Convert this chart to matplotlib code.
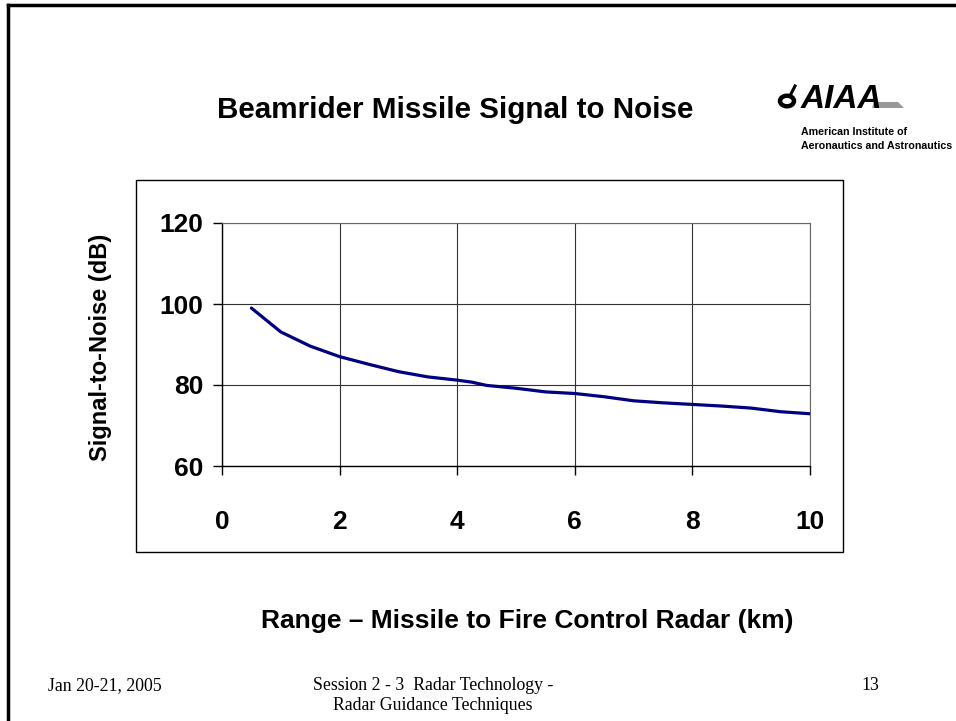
import matplotlib
matplotlib.use("Agg")
import matplotlib.pyplot as plt
from matplotlib.patches import Rectangle, Circle, Polygon
from matplotlib.lines import Line2D

range_km = [0.5, 1.0, 1.5, 2.0, 2.5, 3.0, 3.5, 4.0, 4.25, 4.5, 5.0, 5.5, 6.0, 6.5, 7.0, 7.5, 8.0, 8.5, 9.0, 9.5, 10.0]
snr_db = [99.0, 93.1, 89.6, 87.0, 85.1, 83.3, 82.0, 81.2, 80.7, 79.9, 79.2, 78.3, 77.9, 77.1, 76.1, 75.6, 75.2, 74.8, 74.3, 73.4, 72.9]
x_ticks = [0, 2, 4, 6, 8, 10]
y_ticks = [60, 80, 100, 120]

W, H = 956, 721
fig = plt.figure(figsize=(W / 100, H / 100), dpi=100)
fig.patch.set_facecolor("white")

def fx(px):
    return px / W

def fy(py):
    return 1 - py / H

# slide border (top and left visible)
fig.add_artist(Line2D([fx(8), fx(960)], [fy(5), fy(5)], color="black", lw=2.5))
fig.add_artist(Line2D([fx(8), fx(8)], [fy(5), fy(725)], color="black", lw=2.5))

# chart frame
fig.add_artist(Rectangle((fx(136), fy(552)), fx(843) - fx(136), fy(180) - fy(552),
                         fill=False, edgecolor="black", lw=1.0))

ax = fig.add_axes([fx(222), fy(466), fx(810) - fx(222), fy(223) - fy(466)])
ax.plot(range_km, snr_db, color="#000080", lw=2.3, solid_capstyle="round")
ax.set_xlim(0, 10)
ax.set_ylim(60, 120)
ax.set_xticks(x_ticks)
ax.set_yticks(y_ticks)
ax.grid(True, color="#333333", lw=0.8)
ax.set_axisbelow(True)
for s in ["top", "right"]:
    ax.spines[s].set_color("#666666")
    ax.spines[s].set_linewidth(0.8)
for s in ["left", "bottom"]:
    ax.spines[s].set_color("black")
    ax.spines[s].set_linewidth(1.0)
ax.tick_params(direction="out", length=6.5, width=1.0, colors="black")
ax.tick_params(axis="x", pad=25)
ax.tick_params(axis="y", pad=7)
for lab in ax.get_xticklabels() + ax.get_yticklabels():
    lab.set_fontfamily("Liberation Sans")
    lab.set_fontweight("bold")
    lab.set_fontsize(19)

sans = "Liberation Sans"
serif = "Liberation Serif"
fig.text(fx(455), fy(110), "Beamrider Missile Signal to Noise", ha="center", va="center",
         fontfamily=sans, fontweight="bold", fontsize=21.3)
fig.text(fx(101), fy(347), "Signal-to-Noise (dB)", ha="center", va="center", rotation=90,
         fontfamily=sans, fontweight="bold", fontsize=17)
fig.text(fx(527), fy(621), "Range \u2013 Missile to Fire Control Radar (km)", ha="center", va="center",
         fontfamily=sans, fontweight="bold", fontsize=19)

# footer
fig.text(fx(48), fy(686), "Jan 20-21, 2005", ha="left", va="center", fontfamily=serif, fontsize=12.8)
fig.text(fx(433), fy(686), "Session 2 - 3  Radar Technology -", ha="center", va="center", fontfamily=serif, fontsize=12.8)
fig.text(fx(433), fy(706), "Radar Guidance Techniques", ha="center", va="center", fontfamily=serif, fontsize=12.8)
fig.text(fx(861), fy(686), "13", ha="left", va="center", fontfamily=serif, fontsize=12.8)

# AIAA logo
fig.add_artist(Circle((fx(787), fy(101)), 7 / W, transform=fig.transFigure, fill=False, edgecolor="black", lw=3.2))
fig.add_artist(Line2D([fx(791), fx(795)], [fy(94), fy(86)], color="black", lw=2.2))
fig.add_artist(Polygon([(fx(874), fy(102)), (fx(898), fy(102)), (fx(904), fy(108)), (fx(872), fy(108))],
                       closed=True, transform=fig.transFigure, facecolor="#999999", edgecolor="none"))
fig.text(fx(801), fy(108), "AIAA", ha="left", va="baseline", fontfamily=sans, fontweight="bold",
         fontstyle="italic", fontsize=24, color="black")
fig.text(fx(801), fy(132), "American Institute of", ha="left", va="center", fontfamily=sans,
         fontweight="bold", fontsize=7.7)
fig.text(fx(801), fy(146), "Aeronautics and Astronautics", ha="left", va="center", fontfamily=sans,
         fontweight="bold", fontsize=7.7)

fig.savefig("out.png", dpi=100)
